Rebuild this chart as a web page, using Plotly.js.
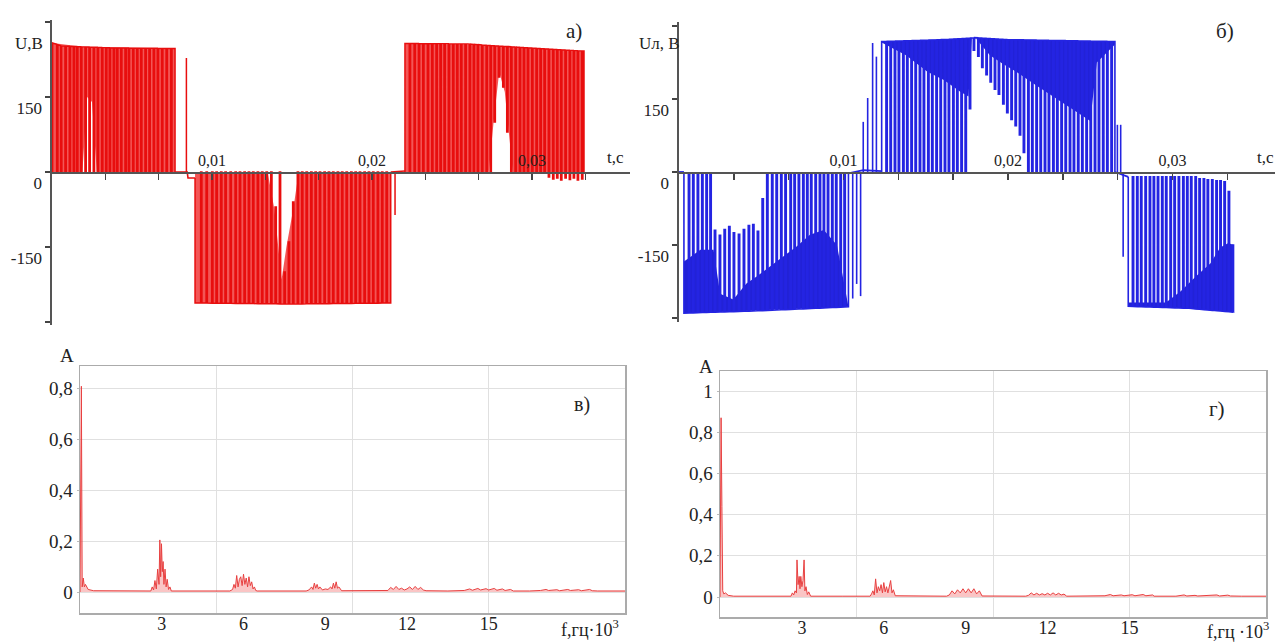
<!DOCTYPE html>
<html><head><meta charset="utf-8">
<script src="https://cdn.plot.ly/plotly-3.0.1.min.js"></script>
<style>html,body{margin:0;padding:0;background:#fff}#chart{width:1279px;height:644px}</style>
</head><body><div id="chart"></div>
<script>
// ===== DATA (time in ms, voltage in V, frequency in kHz) =====
// Panel а) red voltage
const redRail1T = [0.04, 0.6, 4.0, 7.69];
const redRail1V = [258, 252, 248, 247];
const redNotch1 = [0.29,0.54,0.81,1.08,1.33,1.54,1.79,2.06,2.31,2.58,2.83,3.10,3.35,3.58,3.83,4.04,4.29,4.56,4.77,5.04,5.29,5.54,5.81,6.06,6.33,6.58,6.85,7.13,7.42];
const redPart1 = [];
const redBand1 = [[0.04,0],[1.9,0],[2.2,150],[2.5,140],[2.8,0],[7.69,0]];

const redRail2T = [8.94, 15.0, 21.17];
const redRail2V = [-262, -264, -262];
const redNotch2 = [9.29,9.63,9.98,10.25,10.54,10.81,11.13,11.44,11.71,12.0,12.27,12.54,12.83,13.1,13.38,13.67,13.94,14.21,14.5,14.77,15.04,15.33,15.6,15.88,16.17,16.44,16.71,17.0,17.27,17.54,17.83,18.1,18.38,18.67,18.94,19.21,19.5,19.77,20.04,20.33,20.6,20.88];
const redPart2 = [[13.94,-70],[14.5,-200],[14.77,-140],[15.04,-60]];
const redBand2 = [[8.94,-4],[13.5,-4],[13.9,-75],[14.35,-215],[14.65,-150],[15.1,-70],[15.4,-4],[21.17,-4]];

const redRail3T = [22.06, 26.0, 29.0, 33.25];
const redRail3V = [257, 256, 250, 242];
const redNotch3 = [22.33,22.63,22.9,23.17,23.46,23.73,24.0,24.25,24.5,24.77,25.04,25.29,25.54,25.81,26.08,26.33,26.58,26.85,27.13,27.38,27.63,27.9,28.17,28.42,28.67,28.94,29.21,29.46,29.71,29.98,30.25,30.5,30.75,31.02,31.29,31.54,31.79,32.06,32.33,32.58,32.83,33.1];
const redPart3 = [[27.63,100],[27.9,190],[28.17,170],[28.42,80],[31.02,-10],[31.29,-14],[31.54,-12],[31.79,-16],[32.06,-12],[32.33,-15],[32.58,-12],[32.83,-16],[33.1,-14]];
const redBand3 = [[22.06,0],[27.3,0],[27.6,100],[27.95,200],[28.3,160],[28.6,60],[28.8,0],[33.25,0]];

const redSpikes = [[8.4,228],[21.44,-86]];
const redRestT = [7.69, 8.45, 8.5, 8.94, null, 21.17, 22.06];
const redRestV = [0, 0, -12, -12, null, 0, 2];

// Panel б) blue voltage
const blueRail1T = [0.3, 5.0, 10.3];
const blueRail1V = [-290, -285, -277];
const blueNotch1 = [0.57,0.83,1.11,1.38,1.64,1.88,2.15,2.45,2.74,3.02,3.30,3.61,3.91,4.21,4.48,4.76,5.05,5.33,5.63,5.90,6.18,6.44,6.75,6.99,7.25,7.52,7.76,8.0,8.27,8.53,8.77,9.02,9.28,9.52,9.79,10.03];
const bluePart1 = [[2.15,-120],[2.45,-130],[2.74,-118],[3.02,-112],[3.30,-125],[3.61,-128],[3.91,-118],[4.21,-110],[4.48,-108],[4.76,-122],[5.05,-55]];
const blueBand1 = [[0.3,-184],[1.3,-160],[2.1,-160],[2.5,-250],[3.3,-262],[4.1,-229],[4.7,-215],[5.5,-195],[6.3,-174],[7.15,-153],[7.96,-129],[8.8,-119],[9.6,-150],[10.3,-270]];

const blueRail2T = [12.32, 16.0, 18.0, 20.0, 26.5];
const blueRail2V = [268, 272, 276, 272, 268];
const blueNotch2 = [12.58,12.83,13.09,13.33,13.6,13.84,14.10,14.35,14.61,14.85,15.12,15.36,15.62,15.87,16.13,16.37,16.64,16.88,17.14,17.39,17.65,17.89,18.16,18.4,18.66,18.91,19.17,19.41,19.68,19.92,20.18,20.43,20.69,20.93,21.2,21.44,21.7,21.95,22.21,22.45,22.72,22.96,23.22,23.47,23.73,23.97,24.23,24.48,24.74,24.99,25.25,25.49,25.75,26.0,26.26];
const bluePart2 = [[17.65,130],[17.89,250],[18.16,238],[18.4,215],[18.66,200],[18.91,185],[19.17,170],[19.41,160],[19.68,140],[19.92,122],[20.18,108],[20.43,95],[20.69,76],[20.93,40]];
const blueBand2a = [[12.32,266],[13.8,240],[15.1,206],[16.1,189],[17.1,165],[17.6,155],[17.8,272]];
const blueBand2b = [[18.1,272],[18.9,240],[19.7,222],[20.5,206],[21.7,178],[23.0,150],[24.2,123],[25.0,105],[25.4,225],[26.5,262]];

const blueRail3T = [27.31, 31.0, 33.7];
const blueRail3V = [-276, -280, -288];
const blueNotch3 = [27.56,27.82,28.06,28.33,28.59,28.83,29.08,29.34,29.58,29.85,30.09,30.35,30.62,30.86,31.1,31.37,31.61,31.87,32.11,32.38,32.64,32.88,33.13,33.39,33.63];
const bluePart3 = [[31.61,-14],[31.87,-14],[32.11,-16],[32.38,-16],[32.64,-18],[32.88,-18],[33.13,-20],[33.39,-40],[33.63,-150]];
const blueBand3 = [[27.31,-268],[29.6,-268],[30.5,-245],[31.4,-215],[32.3,-188],[32.9,-155],[33.4,-146],[33.7,-150]];

const blueSpikes = [[10.56,-260],[10.8,-230],[11.04,-255],[11.2,103],[11.47,152],[11.77,265],[12.0,237],[26.65,97],[26.85,97],[27.0,-174]];
const blueRestT = [0, 0.3, null, 10.3, 11.2, 12.32, null, 26.5, 27.31];
const blueRestV = [0, 0, null, -3, 4, 2, null, 0, -10];

// Spectra (f in kHz, amplitude)
const specLeft = [[0,0],[0.05,0.81],[0.08,0.02],[0.12,0.055],[0.16,0.02],[0.2,0.03],[0.3,0.01],[0.5,0.005],[2.6,0.004],[2.65,0.02],[2.7,0.008],[2.75,0.045],[2.8,0.012],[2.85,0.09],[2.9,0.03],[2.93,0.205],[2.96,0.06],[2.99,0.19],[3.02,0.08],[3.05,0.12],[3.08,0.03],[3.12,0.09],[3.16,0.02],[3.2,0.05],[3.25,0.01],[3.3,0.02],[3.35,0.004],[4.0,0.004],[5.5,0.004],[5.6,0.01],[5.65,0.03],[5.7,0.015],[5.75,0.065],[5.8,0.02],[5.85,0.05],[5.9,0.06],[5.95,0.025],[6.0,0.07],[6.05,0.03],[6.1,0.055],[6.15,0.02],[6.2,0.06],[6.25,0.025],[6.3,0.04],[6.35,0.012],[6.4,0.02],[6.45,0.006],[6.5,0.004],[7.0,0.004],[8.3,0.004],[8.4,0.008],[8.5,0.02],[8.55,0.01],[8.6,0.035],[8.65,0.015],[8.7,0.03],[8.75,0.012],[8.8,0.02],[8.9,0.008],[9.0,0.012],[9.1,0.01],[9.2,0.02],[9.25,0.012],[9.3,0.035],[9.35,0.015],[9.4,0.04],[9.45,0.015],[9.5,0.02],[9.6,0.005],[10.5,0.004],[11.2,0.004],[11.3,0.006],[11.4,0.018],[11.5,0.01],[11.6,0.022],[11.7,0.01],[11.8,0.015],[11.9,0.008],[12.0,0.012],[12.1,0.02],[12.2,0.01],[12.3,0.022],[12.4,0.01],[12.5,0.018],[12.6,0.008],[12.7,0.005],[13.5,0.004],[14.0,0.004],[14.1,0.006],[14.3,0.012],[14.4,0.007],[14.6,0.014],[14.7,0.008],[14.9,0.013],[15.0,0.008],[15.2,0.014],[15.3,0.007],[15.5,0.012],[15.6,0.006],[15.8,0.01],[15.9,0.004],[16.5,0.004],[16.9,0.006],[17.1,0.01],[17.2,0.006],[17.5,0.009],[17.6,0.005],[17.9,0.01],[18.0,0.006],[18.3,0.009],[18.4,0.005],[18.7,0.01],[18.8,0.005],[19.0,0.004],[20.0,0.004]];
const specRight = [[0,0],[0.04,0.87],[0.07,0.44],[0.1,0.03],[0.14,0.015],[0.2,0.02],[0.3,0.008],[0.5,0.004],[2.6,0.004],[2.65,0.02],[2.7,0.01],[2.75,0.03],[2.8,0.02],[2.82,0.18],[2.86,0.06],[2.9,0.1],[2.93,0.04],[2.96,0.1],[3.0,0.05],[3.04,0.08],[3.08,0.18],[3.11,0.03],[3.15,0.05],[3.2,0.012],[3.25,0.025],[3.32,0.004],[4.5,0.004],[5.5,0.004],[5.55,0.015],[5.6,0.03],[5.65,0.01],[5.7,0.088],[5.75,0.02],[5.8,0.05],[5.85,0.03],[5.9,0.06],[5.95,0.02],[6.0,0.07],[6.05,0.025],[6.1,0.05],[6.15,0.02],[6.25,0.08],[6.3,0.02],[6.35,0.035],[6.42,0.006],[7.5,0.004],[8.3,0.004],[8.4,0.01],[8.5,0.03],[8.6,0.015],[8.7,0.035],[8.8,0.02],[8.9,0.04],[9.0,0.02],[9.1,0.04],[9.2,0.02],[9.3,0.04],[9.4,0.015],[9.5,0.03],[9.6,0.005],[11.2,0.004],[11.3,0.008],[11.4,0.02],[11.5,0.01],[11.6,0.018],[11.7,0.01],[11.8,0.016],[11.9,0.01],[12.0,0.018],[12.1,0.01],[12.2,0.02],[12.3,0.01],[12.4,0.018],[12.5,0.01],[12.6,0.014],[12.7,0.004],[14.0,0.004],[14.1,0.006],[14.3,0.012],[14.4,0.006],[14.7,0.01],[14.8,0.006],[15.1,0.011],[15.2,0.006],[15.5,0.012],[15.6,0.006],[15.85,0.01],[15.9,0.004],[16.7,0.004],[16.8,0.006],[17.0,0.01],[17.1,0.005],[17.4,0.008],[17.5,0.005],[17.9,0.006],[18.2,0.01],[18.3,0.005],[18.6,0.009],[18.7,0.005],[19.0,0.006],[19.1,0.004],[20.0,0.004]];

// Tick labels
const timeTickVals = [10, 20, 30];
const timeTickText = ['0,01', '0,02', '0,03'];
const voltTickVals = [-150, 0, 150];
const voltTickText = ['-150', '0', '150'];
const freqTickVals = [3, 6, 9, 12, 15];
const freqTickText = ['3', '6', '9', '12', '15'];
const ampLeftVals = [0, 0.2, 0.4, 0.6, 0.8];
const ampLeftText = ['0', '0,2', '0,4', '0,6', '0,8'];
const ampRightVals = [0, 0.2, 0.4, 0.6, 0.8, 1];
const ampRightText = ['0', '0,2', '0,4', '0,6', '0,8', '1'];

// ===== DRAWING =====
const NOTCH_W = 0.08; // drawn width of a switching notch, ms (style)
function interp(T, V, t) {
  if (t <= T[0]) return V[0];
  for (let i = 1; i < T.length; i++) {
    if (t <= T[i]) { const f = (t - T[i-1]) / (T[i] - T[i-1]); return V[i-1] + f * (V[i] - V[i-1]); }
  }
  return V[V.length - 1];
}
function blockPath(railT, railV, notches, partial, base, startV, endV) {
  const dips = new Map(partial.map(p => [p[0], p[1]]));
  const ev = [];
  railT.forEach(t => ev.push({t: t, k: 'r'}));
  notches.forEach(t => ev.push({t: t, k: 'n'}));
  ev.sort((a, b) => a.t - b.t);
  const x = [railT[0]], y = [startV];
  ev.forEach(e => {
    const r = interp(railT, railV, e.t);
    if (e.k === 'r') { x.push(e.t); y.push(r); }
    else {
      const d = dips.has(e.t) ? dips.get(e.t) : base;
      const t2 = e.t + NOTCH_W, r2 = interp(railT, railV, t2);
      x.push(e.t, e.t, t2, t2); y.push(r, d, d, r2);
    }
  });
  if (endV !== null) { x.push(railT[railT.length - 1]); y.push(endV); }
  return {x: x, y: y};
}
function bandPoly(band, railT, railV) {
  const x = [], y = [];
  band.forEach(p => { x.push(p[0]); y.push(p[1]); });
  for (let i = band.length - 1; i >= 0; i--) { x.push(band[i][0]); y.push(interp(railT, railV, band[i][0])); }
  return {x: x, y: y};
}
function spikePath(sp) {
  const x = [], y = [];
  sp.forEach(s => { x.push(s[0], s[0], null); y.push(0, s[1], null); });
  return {x: x, y: y};
}

const RED = 'rgb(232,14,14)', REDFILL = 'rgb(243,86,86)';
const BLUE = 'rgb(36,36,226)', BLUEFILL = 'rgb(34,34,214)';
const traces = [];
function addBand(p, xa, ya, color) {
  traces.push({type: 'scatter', mode: 'lines', x: p.x, y: p.y, fill: 'toself', fillcolor: color,
    line: {width: 0}, xaxis: xa, yaxis: ya, hoverinfo: 'skip'});
}
function addLine(p, xa, ya, color, w) {
  traces.push({type: 'scatter', mode: 'lines', x: p.x, y: p.y, line: {color: color, width: w},
    xaxis: xa, yaxis: ya, hoverinfo: 'skip', connectgaps: false});
}
// red
addBand(bandPoly(redBand1, redRail1T, redRail1V), 'x', 'y', REDFILL);
addBand(bandPoly(redBand2, redRail2T, redRail2V), 'x', 'y', REDFILL);
addBand(bandPoly(redBand3, redRail3T, redRail3V), 'x', 'y', REDFILL);
addLine(blockPath(redRail1T, redRail1V, redNotch1, redPart1, 0, 0, 0), 'x', 'y', RED, 1.5);
addLine(blockPath(redRail2T, redRail2V, redNotch2, redPart2, 0, -12, 0), 'x', 'y', RED, 1.5);
addLine(blockPath(redRail3T, redRail3V, redNotch3, redPart3, 0, 0, 0), 'x', 'y', RED, 1.5);
addLine(spikePath(redSpikes), 'x', 'y', RED, 1.5);
addLine({x: redRestT, y: redRestV}, 'x', 'y', RED, 1.6);
// blue
addBand(bandPoly(blueBand1, blueRail1T, blueRail1V), 'x2', 'y2', BLUEFILL);
addBand(bandPoly(blueBand2a, blueRail2T, blueRail2V), 'x2', 'y2', BLUEFILL);
addBand(bandPoly(blueBand2b, blueRail2T, blueRail2V), 'x2', 'y2', BLUEFILL);
addBand(bandPoly(blueBand3, blueRail3T, blueRail3V), 'x2', 'y2', BLUEFILL);
addLine(blockPath(blueRail1T, blueRail1V, blueNotch1, bluePart1, -6, 0, -3), 'x2', 'y2', BLUE, 1.6);
addLine(blockPath(blueRail2T, blueRail2V, blueNotch2, bluePart2, 0, 0, 0), 'x2', 'y2', BLUE, 1.6);
addLine(blockPath(blueRail3T, blueRail3V, blueNotch3, bluePart3, -10, -10, null), 'x2', 'y2', BLUE, 1.6);
addLine(spikePath(blueSpikes), 'x2', 'y2', BLUE, 1.6);
addLine({x: blueRestT, y: blueRestV}, 'x2', 'y2', BLUE, 1.8);
// spectra
function addSpec(sp, xa, ya) {
  traces.push({type: 'scatter', mode: 'lines', x: sp.map(p => p[0]), y: sp.map(p => p[1]),
    fill: 'tozeroy', fillcolor: 'rgba(240,90,90,0.35)', line: {color: 'rgb(232,64,64)', width: 1},
    xaxis: xa, yaxis: ya, hoverinfo: 'skip'});
}
addSpec(specLeft, 'x3', 'y3');
addSpec(specRight, 'x4', 'y4');
traces.push({type: 'scatter', x: [], y: [], xaxis: 'x5', yaxis: 'y3'});
traces.push({type: 'scatter', x: [], y: [], xaxis: 'x6', yaxis: 'y4'});

const W = 1279, H = 644;
const px = v => v / W, py = v => 1 - v / H;
const SERIF = '"Liberation Serif", "DejaVu Serif", "Times New Roman", Times, serif';
const tf = (s) => ({family: SERIF, size: s, color: '#222'});

function timeAxis(x0, x1, msPerPx, zeroY) {
  return {domain: [px(x0), px(x1)], range: [0, (x1 - x0) / msPerPx], anchor: 'free', position: py(zeroY),
    side: 'top', showline: true, linecolor: '#555', linewidth: 1.6, ticks: 'inside', ticklen: 6,
    tickcolor: '#444', tickwidth: 1.4, tickmode: 'array', tickvals: timeTickVals, ticktext: timeTickText,
    minor: {tickmode: 'linear', tick0: 0, dtick: 10 / 3, ticks: 'inside', ticklen: 6, tickcolor: '#444', tickwidth: 1.4, showgrid: false},
    tickfont: tf(16), showgrid: false, zeroline: false, fixedrange: true, layer: 'above traces'};
}
function voltAxis(xa, yTop, yBot, zeroY, pxPerV) {
  return {anchor: xa, domain: [py(yBot), py(yTop)], range: [(zeroY - yBot) / pxPerV, (zeroY - yTop) / pxPerV],
    showline: true, linecolor: '#555', linewidth: 1.6, ticks: 'outside', ticklen: 5, tickcolor: '#444',
    tickwidth: 1.4, tickmode: 'array', tickvals: voltTickVals, ticktext: voltTickText, tickfont: tf(17),
    minor: {tickmode: 'linear', tick0: 0, dtick: 150, ticks: 'outside', ticklen: 5, tickcolor: '#444', tickwidth: 1.4, showgrid: false},
    ticklabelshift: 11, showgrid: false, zeroline: false, fixedrange: true};
}
function freqAxis(x0, x1, ya) {
  return {domain: [px(x0), px(x1)], range: [0, 20], anchor: ya, showline: true, mirror: true,
    linecolor: '#ababab', linewidth: 1.5, ticks: '', tickmode: 'array', tickvals: freqTickVals,
    ticktext: freqTickText, tickfont: tf(18), ticklabelstandoff: -6, showgrid: false, zeroline: false};
}
function gridAxis(over, ya) {
  return {overlaying: over, anchor: ya, range: [0, 20], tickmode: 'array', tickvals: [5, 10, 15],
    showticklabels: false, ticks: '', showgrid: true, gridcolor: '#e0e0e0', gridwidth: 1, showline: false, zeroline: false};
}
function ampAxis(xa, yTop, yBot, zeroY, pxPerA, vals, text) {
  return {anchor: xa, domain: [py(yBot), py(yTop)], range: [(zeroY - yBot) / pxPerA, (zeroY - yTop) / pxPerA],
    showline: true, mirror: true, linecolor: '#ababab', linewidth: 1.5, ticks: 'outside', ticklen: 2,
    tickcolor: '#bbb', tickmode: 'array', tickvals: vals, ticktext: text, tickfont: tf(19),
    showgrid: true, gridcolor: '#e0e0e0', gridwidth: 1, zeroline: false};
}

const ann = (text, x, y, size) => ({text: text, x: px(x), y: py(y), xref: 'paper', yref: 'paper',
  xanchor: 'center', yanchor: 'middle', showarrow: false, font: {family: SERIF, size: size, color: '#222'}});

const layout = {
  width: W, height: H, margin: {l: 0, r: 0, t: 0, b: 0}, paper_bgcolor: '#fff', plot_bgcolor: 'rgba(0,0,0,0)',
  showlegend: false,
  font: {family: SERIF, color: '#222'},
  xaxis: timeAxis(52, 630, 16, 172),
  yaxis: voltAxis('x', 20, 325, 172, 0.5),
  xaxis2: timeAxis(679, 1275, 16.45, 172),
  yaxis2: voltAxis('x2', 22, 322, 172, 0.4867),
  xaxis3: freqAxis(80, 625, 'y3'),
  yaxis3: ampAxis('x3', 366, 613, 592, 254, ampLeftVals, ampLeftText),
  xaxis4: freqAxis(720, 1266, 'y4'),
  yaxis4: ampAxis('x4', 371, 617, 597, 206, ampRightVals, ampRightText),
  xaxis5: gridAxis('x3', 'y3'),
  xaxis6: gridAxis('x4', 'y4'),
  annotations: [
    ann('U,В', 29, 43, 17), ann('а)', 574, 31, 21), ann('t,с', 615, 157, 17),
    ann('Uл, В', 659, 43, 17), ann('б)', 1225, 31, 21), ann('t,с', 1265, 157, 17),
    ann('A', 67, 355, 19), ann('в)', 582, 404, 20), ann('f,гц·10<sup>3</sup>', 590, 628, 18),
    ann('A', 706, 366, 19), ann('г)', 1217, 409, 21), ann('f,гц ·10<sup>3</sup>', 1238, 630, 18)
  ]
};
Plotly.newPlot('chart', traces, layout, {staticPlot: true, displayModeBar: false});
</script></body></html>
